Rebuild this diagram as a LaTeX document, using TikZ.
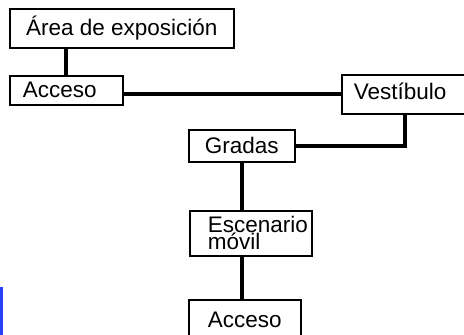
\documentclass[tikz,border=0pt]{standalone}
\usepackage{fontspec}
\setmainfont{Liberation Sans}
\usepackage{tikz}
\hyphenpenalty=10000
\hfuzz=30pt
\definecolor{barblue}{RGB}{40,64,255}
\newcommand{\boxfont}{\fontsize{22.5}{17}\selectfont}

\begin{document}
\begin{tikzpicture}[
    x=1pt, y=-1pt,
    box/.style={draw, rectangle, line width=1.6pt, anchor=north west, inner ysep=0pt, font=\boxfont},
    leftbox/.style={box, align=left},
    link/.style={line width=4pt}
]
\useasboundingbox (0,0) rectangle (464,335);
\clip (0,0) rectangle (464,335);

\node[box, minimum width=224pt, minimum height=39pt, inner xsep=0pt] (area) at (9,8) {Área de exposición};
\node[leftbox, text width=87pt, inner xsep=13pt, minimum height=29pt] (acc1) at (9,75) {Acceso};
\node[leftbox, text width=115pt, inner xsep=12pt, minimum height=39pt, text depth=7pt] (vest) at (341,74) {Vestíbulo};
\node[box, minimum width=106pt, minimum height=32pt, inner xsep=0pt] (gradas) at (188,129) {Gradas};
\node[leftbox, text width=86pt, inner xsep=18pt, minimum height=45pt] (esc) at (189,210) {Escenario\\móvil};
\node[box, minimum width=112pt, minimum height=40pt, inner xsep=0pt] (acc2) at (188,299) {Acceso};

\coordinate (drop) at (405,0);

\draw[link] (acc1.north) -- (acc1.north |- area.south);
\draw[link] (acc1.east |- vest.west) -- (vest.west);
\draw[link] (vest.south -| drop) |- (gradas.east);
\draw[link] (gradas.south) -- (gradas.south |- esc.north);
\draw[link] (gradas.south |- esc.south) -- (gradas.south |- acc2.north);

% blue strip at the lower left edge
\fill[barblue] (0,287) rectangle (2.5,335);

\end{tikzpicture}
\end{document}
